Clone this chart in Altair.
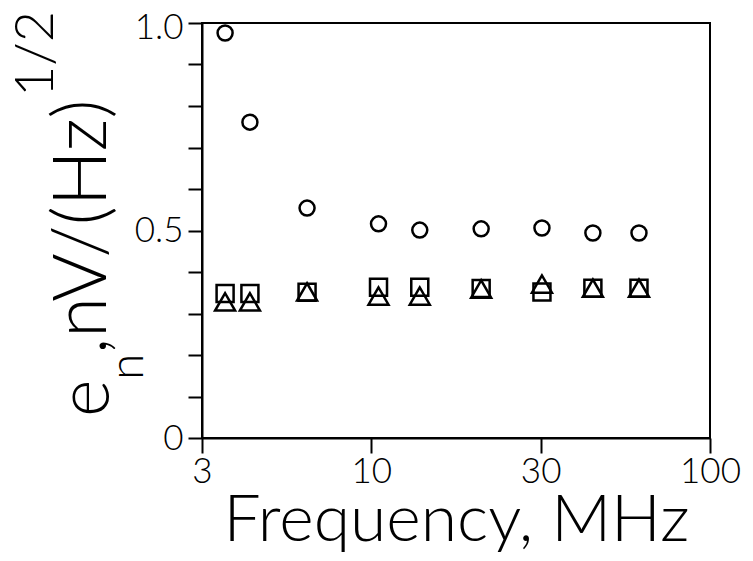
import altair as alt
import pandas as pd

# ---- data ----
freq = [3.70, 4.38, 6.46, 10.5, 13.9, 21.1, 31.9, 45.1, 61.7]
circles = [0.976, 0.761, 0.554, 0.516, 0.501, 0.504, 0.506, 0.494, 0.494]
squares = [0.348, 0.348, 0.351, 0.363, 0.363, 0.360, 0.352, 0.361, 0.361]
triangles = [0.328, 0.328, 0.352, 0.342, 0.342, 0.359, 0.371, 0.361, 0.361]

x_tick_values = [3.1623, 10, 31.623, 100]
x_tick_labels = ["3", "10", "30", "100"]
y_tick_values = [0, 0.1, 0.2, 0.3, 0.4, 0.5, 0.6, 0.7, 0.8, 0.9, 1.0]
y_tick_labels = {"0": "0", "0.5": "0.5", "1": "1.0"}

FONT = "Lato"
WEIGHT = 300

x_label_expr = " : ".join(
    [f"datum.value < {lim} ? '{lab}'" for lim, lab in zip([5, 20, 50], x_tick_labels[:3])]
) + f" : '{x_tick_labels[3]}'"
y_label_expr = (
    f"datum.value == 0 ? '{y_tick_labels['0']}' : "
    f"datum.value == 0.5 ? '{y_tick_labels['0.5']}' : "
    f"datum.value == 1 ? '{y_tick_labels['1']}' : ''"
)

x_enc = alt.X(
    "f:Q",
    scale=alt.Scale(type="log", domain=[3.1623, 100]),
    axis=alt.Axis(
        values=x_tick_values,
        labelExpr=x_label_expr,
        title="Frequency, MHz",
        titleFontSize=66,
        titleBaseline="alphabetic",
        titleY=102,
        tickSize=15,
        labelPadding=1,
        labelFontSize=35,
        labelFlush=False,
        labelOverlap=False,
        grid=False,
    ),
)
y_enc = alt.Y(
    "v:Q",
    scale=alt.Scale(domain=[0, 1]),
    axis=alt.Axis(
        values=y_tick_values,
        labelExpr=y_label_expr,
        title=None,
        tickSize=14,
        labelPadding=5,
        labelFontSize=35,
        labelOverlap=False,
        labelBaseline="middle",
        labelOffset={"condition": {"test": "datum.value == 1", "value": 4}, "value": 0},
        grid=False,
    ),
)


def points(vals, shape, size):
    df = pd.DataFrame({"f": freq, "v": vals})
    return alt.Chart(df).mark_point(
        shape=shape, size=size, filled=False, color="black", strokeWidth=2.5, opacity=1
    ).encode(x=x_enc, y=y_enc)


def label(text, x, y, size):
    return alt.Chart(pd.DataFrame({"t": [text]})).mark_text(
        angle=270, align="left", baseline="alphabetic", fontSize=size,
        font=FONT, fontWeight=WEIGHT, color="black",
    ).encode(x=alt.value(x), y=alt.value(y), text="t:N")


chart = alt.layer(
    points(circles, "circle", 225),
    points(squares, "square", 289),
    points(triangles, "triangle-up", 400),
    label("e", -93, 394, 72),
    label("n", -59, 357, 48),
    label(",nV/(Hz)", -96, 331, 74),
    label("1/2", -149, 74, 54),
).properties(
    width=508,
    height=415,
    autosize=alt.AutoSizeParams(type="none"),
    padding={"left": 194, "top": 15, "right": 35, "bottom": 115},
).configure_axis(
    labelFont=FONT,
    titleFont=FONT,
    labelFontWeight=WEIGHT,
    titleFontWeight=WEIGHT,
    labelColor="black",
    titleColor="black",
    domainColor="black",
    tickColor="black",
    domainWidth=2,
    tickWidth=2,
).configure_view(
    stroke="black", strokeWidth=2
)

chart.save("out.html", embed_options={"renderer": "svg", "actions": False})
